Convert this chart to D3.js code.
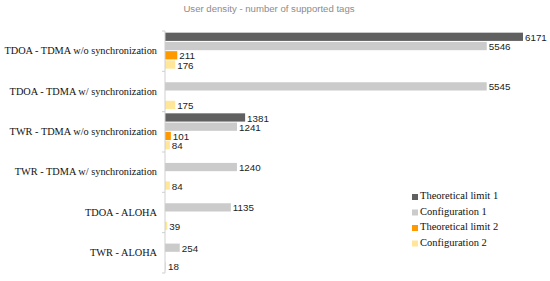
<!DOCTYPE html>
<html>
<head>
<meta charset="utf-8">
<script src="https://cdn.jsdelivr.net/npm/d3@7"></script>
<style>
  body { margin: 0; background: #fff; }
</style>
</head>
<body>
<svg id="chart"></svg>
<script>
// Data
const categories = [
    "TDOA - TDMA w/o synchronization",
    "TDOA - TDMA w/ synchronization",
    "TWR - TDMA w/o synchronization",
    "TWR - TDMA w/ synchronization",
    "TDOA - ALOHA",
    "TWR - ALOHA"
];
const seriesNames = ["Theoretical limit 1", "Configuration 1", "Theoretical limit 2", "Configuration 2"];
const theoretical1 = [6171, null, 1381, null, null, null];
const configuration1 = [5546, 5545, 1241, 1240, 1135, 254];
const theoretical2 = [211, null, 101, null, null, null];
const configuration2 = [176, 175, 84, 84, 39, 18];
const colors = ["#606060", "#cbcbcb", "#ff9900", "#ffe699"];

const series = [theoretical1, configuration1, theoretical2, configuration2];

const width = 550, height = 281;
const margin = {top: 31, right: 27, bottom: 8, left: 165};

const svg = d3.select("#chart")
    .attr("width", width)
    .attr("height", height);

// Title
svg.append("text")
    .attr("x", 269)
    .attr("y", 12)
    .attr("text-anchor", "middle")
    .attr("font-family", "Liberation Sans, Arial, sans-serif")
    .attr("font-size", 9.6)
    .attr("fill", "#8c8c8c")
    .text("User density - number of supported tags");

// Scales
const y0 = d3.scaleBand()
    .domain(categories)
    .range([margin.top, height - margin.bottom]);

const y1 = d3.scaleBand()
    .domain(d3.range(seriesNames.length))
    .range([0, y0.bandwidth()])
    .paddingOuter(0.18);

const x = d3.scaleLinear()
    .domain([0, 6171])
    .range([margin.left, width - margin.right]);

// Bars
const rows = [];
categories.forEach((c, i) => {
    series.forEach((s, j) => {
        if (s[i] != null) rows.push({cat: c, idx: j, value: s[i]});
    });
});

svg.append("g")
    .selectAll("rect")
    .data(rows)
    .enter()
    .append("rect")
    .attr("x", x(0))
    .attr("y", d => y0(d.cat) + y1(d.idx))
    .attr("width", d => x(d.value) - x(0))
    .attr("height", y1.bandwidth() - 1)
    .attr("fill", d => colors[d.idx]);

// Value labels
svg.append("g")
    .selectAll("text")
    .data(rows)
    .enter()
    .append("text")
    .attr("x", d => x(d.value) + 2)
    .attr("y", d => y0(d.cat) + y1(d.idx) + y1.bandwidth() / 2 + 1)
    .attr("dominant-baseline", "middle")
    .attr("font-family", "Liberation Sans, Arial, sans-serif")
    .attr("font-size", 9.8)
    .attr("fill", "#222")
    .text(d => d.value);

// Axis
const axis = svg.append("g")
    .attr("transform", `translate(${margin.left},0)`)
    .call(d3.axisLeft(y0).tickSize(0).tickPadding(8));

axis.select(".domain").attr("stroke", "#cfcfcf").attr("d", `M0,${margin.top}V${height - margin.bottom}`);
axis.selectAll("text")
    .attr("font-family", "Liberation Serif, Times New Roman, serif")
    .attr("font-size", 10.3)
    .attr("fill", "#111");

// boundary ticks
svg.append("g")
    .selectAll("line")
    .data(categories.map(c => y0(c)).concat([height - margin.bottom]))
    .enter()
    .append("line")
    .attr("x1", margin.left - 3)
    .attr("x2", margin.left)
    .attr("y1", d => d)
    .attr("y2", d => d)
    .attr("stroke", "#cfcfcf");

// Legend
const legend = svg.append("g")
    .attr("transform", "translate(412,197)");

const item = legend.selectAll("g")
    .data(seriesNames)
    .enter()
    .append("g")
    .attr("transform", (d, i) => `translate(0,${i * 15.5})`);

item.append("rect")
    .attr("x", 0)
    .attr("y", -3)
    .attr("width", 6)
    .attr("height", 6)
    .attr("fill", (d, i) => colors[i]);

item.append("text")
    .attr("x", 8)
    .attr("y", 0)
    .attr("dominant-baseline", "middle")
    .attr("font-family", "Liberation Serif, Times New Roman, serif")
    .attr("font-size", 10.5)
    .attr("fill", "#111")
    .text(d => d);
</script>
</body>
</html>
